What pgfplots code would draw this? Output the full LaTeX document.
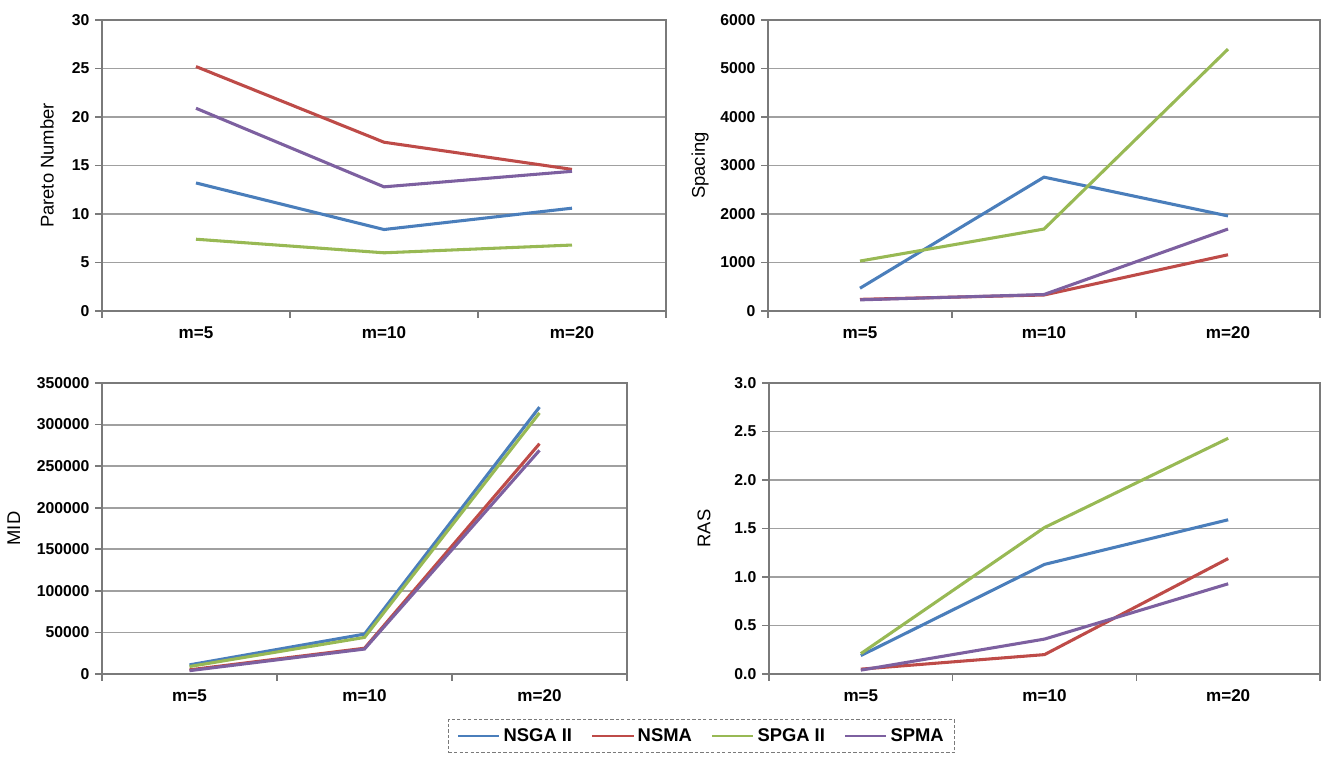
\documentclass[border=0pt]{standalone}
\usepackage{fontspec}
\setmainfont{Liberation Sans}
\usepackage{pgfplots}
\pgfplotsset{compat=1.18}
\definecolor{cblue}{HTML}{4A7EBB}
\definecolor{cred}{HTML}{BE4B48}
\definecolor{cgreen}{HTML}{98B954}
\definecolor{cpurple}{HTML}{7D60A0}
\definecolor{gridc}{HTML}{A0A0A0}
\definecolor{axc}{HTML}{7A7A7A}
\pgfplotsset{
  panel/.style={
    scale only axis, height=218.25pt, anchor=south west,
    xmin=-0.5, xmax=2.5, xtick={0,1,2},
    xticklabels={\mbox{m=5},\mbox{m=10},\mbox{m=20}},
    minor xtick={-0.5,0.5,1.5,2.5},
    tick pos=left,
    major x tick style={draw=none},
    minor x tick style={draw=axc, line width=1.2pt},
    ytick style={draw=axc, line width=1.2pt},
    tick align=outside, major tick length=5pt, minor tick length=5pt,
    ymajorgrids, major grid style={draw=gridc, line width=1.4pt},
    axis line style={draw=axc, line width=1.3pt},
    xticklabel style={font=\bfseries\fontsize{12.8}{14}\selectfont, yshift=-3pt},
    yticklabel style={font=\bfseries\fontsize{11.8}{13}\selectfont, xshift=-1pt},
    /pgf/number format/assume math mode=true,
    scaled y ticks=false,
    every axis y label/.style={rotate=90, anchor=center, font=\fontsize{13.8}{16}\selectfont},
    every axis plot/.append style={line width=2.3pt, mark=none},
    clip=false,
  },
}
\begin{document}
\begin{tikzpicture}
\path[use as bounding box] (0,0) rectangle (997.5pt,568.5pt);
% Panel 1
\begin{axis}[panel, at={(76.5pt,335.25pt)}, width=423pt,
  ymin=0, ymax=30, ytick={0,5,...,30},
  ylabel={Pareto Number}, ylabel style={at={(axis description cs:-0.0975,0.5)}}]
\addplot[cblue] coordinates {(0,13.2) (1,8.4) (2,10.6)};
\addplot[cred] coordinates {(0,25.2) (1,17.4) (2,14.6)};
\addplot[cgreen] coordinates {(0,7.4) (1,6.0) (2,6.8)};
\addplot[cpurple] coordinates {(0,20.9) (1,12.8) (2,14.4)};
\end{axis}
% Panel 2
\begin{axis}[panel, at={(576pt,335.25pt)}, width=414pt,
  ymin=0, ymax=6000, ytick={0,1000,...,6000},
  yticklabel style={/pgf/number format/1000 sep={}},
  ylabel={Spacing}, ylabel style={at={(axis description cs:-0.123,0.5)}}]
\addplot[cblue] coordinates {(0,470) (1,2760) (2,1960)};
\addplot[cred] coordinates {(0,240) (1,330) (2,1160)};
\addplot[cgreen] coordinates {(0,1030) (1,1690) (2,5400)};
\addplot[cpurple] coordinates {(0,230) (1,340) (2,1690)};
\end{axis}
% Panel 3
\begin{axis}[panel, at={(76.5pt,63pt)}, width=393.75pt,
  ymin=0, ymax=350000, ytick={0,50000,...,350000},
  yticklabel style={/pgf/number format/fixed, /pgf/number format/1000 sep={}},
  ylabel={MID}, ylabel style={at={(axis description cs:-0.168,0.5)}},
  legend columns=4,
  legend style={at={(axis description cs:1.142,-0.213)}, anchor=center,
    draw=axc, line width=0.9pt, dash pattern=on 2.5pt off 1.6pt, fill=white,
    font=\bfseries\fontsize{13.8}{15}\selectfont,
    inner xsep=6pt, inner ysep=5pt,
    /tikz/every even column/.append style={column sep=12pt}},
  legend image code/.code={\draw[#1, solid, line width=2.2pt] (0pt,0pt) -- (31pt,0pt);},
  ]
\addplot[cblue] coordinates {(0,11000) (1,48000) (2,321000)};
\addplot[cred] coordinates {(0,5000) (1,31000) (2,277000)};
\addplot[cgreen] coordinates {(0,9000) (1,44000) (2,314000)};
\addplot[cpurple] coordinates {(0,4000) (1,30000) (2,269000)};
\legend{NSGA II, NSMA, SPGA II, SPMA}
\end{axis}
% Panel 4
\begin{axis}[panel, at={(576.75pt,63pt)}, width=413.25pt,
  ymin=0, ymax=3, ytick={0,0.5,...,3},
  yticklabel style={/pgf/number format/fixed, /pgf/number format/fixed zerofill, /pgf/number format/precision=1},
  ylabel={RAS}, ylabel style={at={(axis description cs:-0.118,0.5)}}]
\addplot[cblue] coordinates {(0,0.19) (1,1.13) (2,1.59)};
\addplot[cred] coordinates {(0,0.05) (1,0.20) (2,1.19)};
\addplot[cgreen] coordinates {(0,0.21) (1,1.51) (2,2.43)};
\addplot[cpurple] coordinates {(0,0.04) (1,0.36) (2,0.93)};
\end{axis}
\end{tikzpicture}
\end{document}
